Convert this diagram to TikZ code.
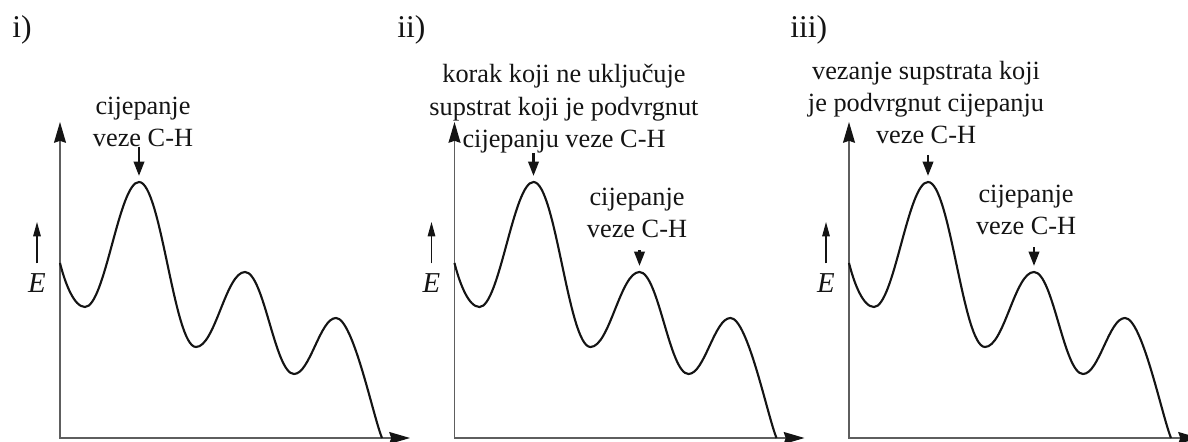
\documentclass[tikz,border=0pt]{standalone}
\usepackage{fontspec}
\setmainfont{Liberation Serif}
\usepackage{tikz}
\usetikzlibrary{arrows.meta,positioning}
\definecolor{epink}{HTML}{141414}
\definecolor{epaxis}{HTML}{5E5E5E}
\tikzset{
  axis/.style={draw=epaxis,line width=0.9pt,
              {Stealth[length=5.2mm,width=3mm,inset=0.5mm,color=epink]}-{Stealth[length=5.2mm,width=3mm,inset=0.5mm,color=epink]}},
  prof/.style={draw=epink,line width=1.5pt},
  ptr/.style={-{Triangle[length=3.6mm,width=2.6mm]},line width=1.8pt,draw=epink,shorten >=0.15cm},
  earr/.style={-{Triangle[length=3.6mm,width=1.9mm]},line width=0.8pt,draw=epink,shorten <=0.25cm},
  lbl/.style={font=\fontsize{18.7}{22.8}\selectfont,align=center,inner sep=0pt,text=epink,anchor=south},
  tag/.style={font=\fontsize{22.5}{26}\selectfont,inner sep=0pt,text=epink,anchor=west},
  elab/.style={font=\fontsize{20.5}{24}\selectfont\itshape,inner sep=0pt,text=epink},
}

\begin{document}
\begin{tikzpicture}[x=0.025cm,y=0.025cm]
  \useasboundingbox (0,-3) rectangle (1188,438);

  % panel i
  \begin{scope}[shift={(60,0)}]
    \draw[axis] (0,316) -- (0,0) -- (350,0);
    \draw[prof] (0,175) .. controls +(5,-20) and +(-11,0) .. (25,131)
      .. controls +(20,0) and +(-20,0) .. (79,256) coordinate (tsI)
      .. controls +(22,0) and +(-22,0) .. (136,91)
      .. controls +(19,0) and +(-19,0) .. (185,166)
      .. controls +(19,0) and +(-19,0) .. (234,64)
      .. controls +(16,0) and +(-16,0) .. (276,120)
      .. controls +(17,0) and +(-9,22) .. (322,0);
    \node[elab] (eI) at (-23,155) {E};
    \coordinate (etI) at (-23,216);
    \draw[earr] (eI) -- (etI);
  \end{scope}

  % panel ii
  \begin{scope}[shift={(454.5,0)}]
    \draw[axis] (0,316) -- (0,0) -- (350,0);
    \draw[prof] (0,175) .. controls +(5,-20) and +(-11,0) .. (25,131)
      .. controls +(20,0) and +(-20,0) .. (79,256) coordinate (tsIIa)
      .. controls +(22,0) and +(-22,0) .. (136,91)
      .. controls +(19,0) and +(-19,0) .. (185,166) coordinate (tsIIb)
      .. controls +(19,0) and +(-19,0) .. (234,64)
      .. controls +(16,0) and +(-16,0) .. (276,120)
      .. controls +(17,0) and +(-9,22) .. (322,0);
    \node[elab] (eII) at (-23,155) {E};
    \coordinate (etII) at (-23,216);
    \draw[earr] (eII) -- (etII);
  \end{scope}

  % panel iii
  \begin{scope}[shift={(849,0)}]
    \draw[axis] (0,316) -- (0,0) -- (350,0);
    \draw[prof] (0,175) .. controls +(5,-20) and +(-11,0) .. (25,131)
      .. controls +(20,0) and +(-20,0) .. (79,256) coordinate (tsIIIa)
      .. controls +(22,0) and +(-22,0) .. (136,91)
      .. controls +(19,0) and +(-19,0) .. (185,166) coordinate (tsIIIb)
      .. controls +(19,0) and +(-19,0) .. (234,64)
      .. controls +(16,0) and +(-16,0) .. (276,120)
      .. controls +(17,0) and +(-9,22) .. (322,0);
    \node[elab] (eIII) at (-23,155) {E};
    \coordinate (etIII) at (-23,216);
    \draw[earr] (eIII) -- (etIII);
  \end{scope}

  \node[tag] (tagI) at (12,408) {i)};
  \node[tag] (tagII) at (397,408) {ii)};
  \node[tag] (tagIII) at (790,408) {iii)};

  % step labels
  \node[lbl] (labI) at (143,291) {cijepanje\\veze C-H};
  \node[lbl] (labIIa) at (564,285) {korak koji ne uključuje\\supstrat koji je podvrgnut\\cijepanju veze C-H};
  \node[lbl] (labIIb) at (637,200) {cijepanje\\veze C-H};
  \node[lbl] (labIIIa) at (926,294) {vezanje supstrata koji\\je podvrgnut cijepanju\\veze C-H};
  \node[lbl] (labIIIb) at (1026,203) {cijepanje\\veze C-H};

  \draw[ptr] (labI.south -| tsI) -- (tsI);
  \draw[ptr] (labIIa.south -| tsIIa) -- (tsIIa);
  \draw[ptr,shorten <=0.3cm] (labIIb.south -| tsIIb) -- (tsIIb);
  \draw[ptr,shorten <=0.27cm] (labIIIa.south -| tsIIIa) -- (tsIIIa);
  \draw[ptr,shorten <=0.3cm] (labIIIb.south -| tsIIIb) -- (tsIIIb);
\end{tikzpicture}
\end{document}
